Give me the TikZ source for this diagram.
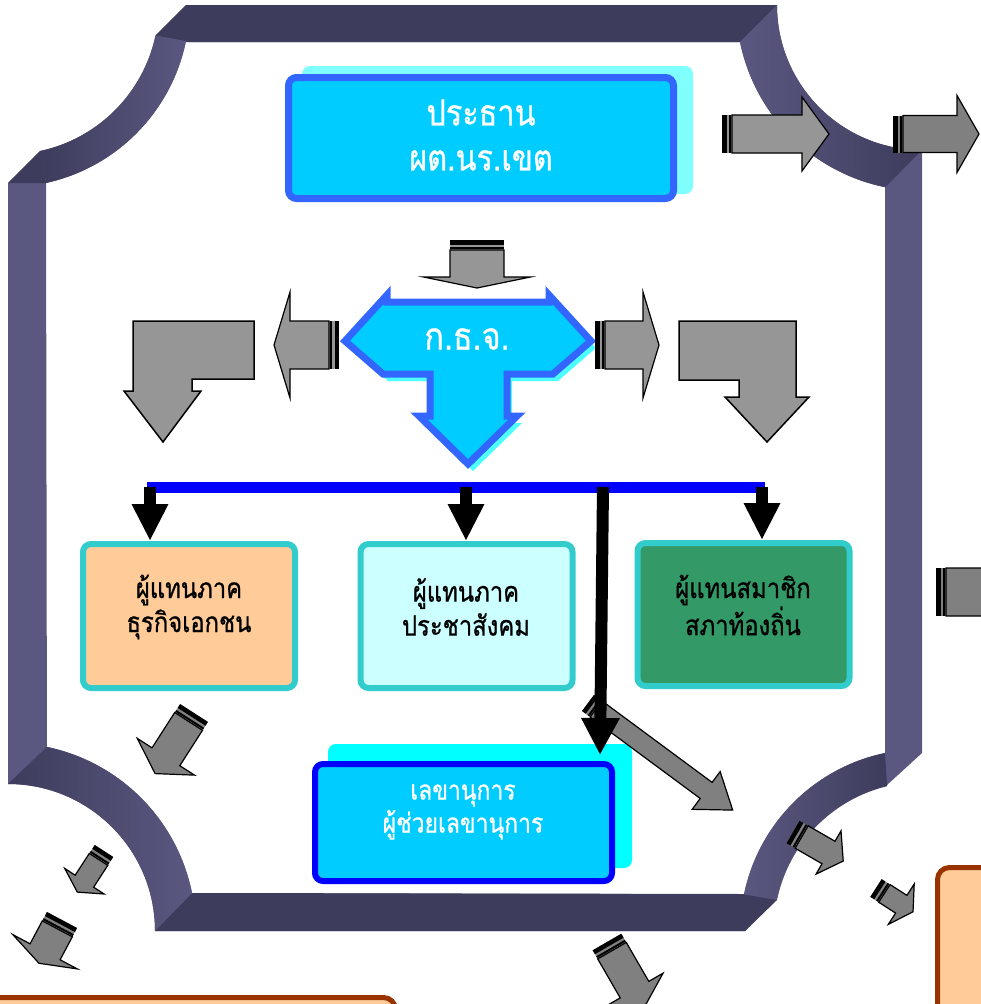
\documentclass[tikz,border=0pt]{standalone}
\usepackage{fontspec}
\newfontfamily\thai[Script=Thai,FakeStretch=0.85,FakeBold=0.8]{Loma}
\usetikzlibrary{arrows.meta}
\definecolor{frL}{RGB}{90,88,128}
\definecolor{frD}{RGB}{62,60,92}
\definecolor{skyf}{HTML}{00CCFF}
\definecolor{bord}{HTML}{3366FF}
\definecolor{shd}{HTML}{80FFFF}
\definecolor{shdk}{HTML}{4DFFFF}
\definecolor{shdb}{HTML}{00FFFF}
\definecolor{grA}{HTML}{969696}
\definecolor{grB}{HTML}{808080}
\definecolor{orng}{HTML}{FFCC99}
\definecolor{lcyan}{HTML}{CCFFFF}
\definecolor{grn}{HTML}{339966}
\definecolor{tealb}{HTML}{33CCCC}
\definecolor{brwn}{HTML}{993300}
\definecolor{secb}{HTML}{0000FF}

% striped block arrow: x, y (tail centre), angle, length, shaft width, head width, head length, fill
\newcommand\sarw[8]{%
  \begin{scope}[shift={(#1,#2)},rotate=#3]
    \fill[#8] (0,{-#5/2}) rectangle (10,{#5/2});
    \fill[black] (0,{-#5/2}) rectangle (4.5,{#5/2});
    \fill[black] (7,{-#5/2}) rectangle (9,{#5/2});
    \draw[fill=#8,line width=1.2pt,line join=miter] (10,{-#5/2}) -- ({#4-#7},{-#5/2}) -- ({#4-#7},{-#6/2}) -- (#4,0) -- ({#4-#7},{#6/2}) -- ({#4-#7},{#5/2}) -- (10,{#5/2}) -- cycle;
  \end{scope}}

\tikzset{
  box/.style={rounded corners=8pt, line width=6pt, draw=tealb, minimum width=212pt, minimum height=144pt, inner sep=0pt},
  boxtext/.style={font=\thai\fontsize{28}{34}\selectfont, align=center, text=black, inner sep=0pt},
  blk/.style={line width=12pt, -{Triangle[width=34pt,length=37pt]}},
  bent/.style={fill=grA, draw=black, line width=1.5pt, line join=miter},
}

\begin{document}
\begin{tikzpicture}[x=1pt,y=-1pt]
\useasboundingbox (0,0) rectangle (981,1004);
\clip (0,0) rectangle (981,1004);

% ---------- frame ----------
\fill[frL, even odd rule]
  (186,5) -- (777,5) arc[start angle=180,end angle=90,radius=145] -- (922,753) -- (887,785)
  arc[start angle=256.4,end angle=191.7,radius=148] -- (745,931) -- (155,931)
  arc[start angle=0,end angle=-90,radius=147] -- (8,183) -- (40,151)
  arc[start angle=78,end angle=12,radius=150] -- cycle
  (188,42) -- (740,42) arc[start angle=168.5,end angle=101.5,radius=186] -- (885,753)
  arc[start angle=258.2,end angle=191.7,radius=182] -- (192,893)
  arc[start angle=-11.4,end angle=-78.2,radius=187] -- (46,183)
  arc[start angle=77.6,end angle=11.6,radius=183] -- cycle;
\fill[frD] (155.5,35.5) -- (186,5) -- (777,5) -- (740,42) -- (186,42) -- cycle;
\fill[frD] (744,894) -- (777,900) -- (745,931) -- (155,931) -- (192,893) -- cycle;
\fill[frD] (8,183) -- (40,151) -- (46,183) -- cycle;
\shade[left color=frL, right color=frD]
  (777,5) arc[start angle=180,end angle=90,radius=145] -- (885.2,187.2)
  arc[start angle=101.5,end angle=168.5,radius=186] -- cycle;
\shade[left color=frD, right color=frL]
  (192,893) arc[start angle=-11.4,end angle=-78.2,radius=187] -- (8,784)
  arc[start angle=-90,end angle=0,radius=147] -- cycle;
\shade[left color=frD, right color=frL]
  (46,183) arc[start angle=77.6,end angle=11.6,radius=183] -- (155.5,35.5)
  arc[start angle=12,end angle=78,radius=150] -- cycle;
\shade[left color=frL, right color=frD]
  (885,753) arc[start angle=258.2,end angle=191.7,radius=182] -- (777,900)
  arc[start angle=191.7,end angle=256.4,radius=148] -- cycle;

% ---------- title box ----------
\node[fill=shd, rounded corners=8pt, minimum width=391pt, minimum height=128pt, inner sep=0pt] (ttlsh) at (497.5,130) {};
\node[fill=skyf, draw=bord, line width=7pt, rounded corners=8pt, minimum width=385pt, minimum height=121pt, inner sep=0pt] (ttl) at (481,138) {};
\node[text=white, font=\thai\fontsize{36}{45}\selectfont, align=center, inner sep=0pt] (ttltx) at (481,135) {ประธาน\\ผต.นร.เขต};

% ---------- arrows near the top ----------
\sarw{477}{240}{-90}{48}{54}{107}{11}{grA}
\sarw{722}{134}{0}{107}{38}{74}{27}{grA}
\sarw{893}{134}{0}{86}{37}{77}{22}{grB}
\sarw{936}{592}{0}{130}{48}{100}{30}{grB}

% ---------- ก.ธ.จ. shape ----------
\fill[shdk, shift={(5,7)}] (345,341) -- (387,295) -- (387,302) -- (549,302) -- (549,295) -- (591,341) -- (553,374) -- (507,374) -- (507,416) -- (517,416) -- (468,464) -- (419,416) -- (430,416) -- (430,374) -- (383,374) -- cycle;
\draw[fill=skyf, draw=bord, line width=7pt, line join=miter] (345,341) -- (387,295) -- (387,302) -- (549,302) -- (549,295) -- (591,341) -- (553,374) -- (507,374) -- (507,416) -- (517,416) -- (468,464) -- (419,416) -- (430,416) -- (430,374) -- (383,374) -- cycle;
\node[text=white, font=\thai\fontsize{38}{45}\selectfont, inner sep=0pt] (kth) at (467,339) {ก.ธ.จ.};

\sarw{339}{345}{180}{65}{48}{106}{16}{grA}
\sarw{595}{345}{0}{64}{48}{106}{16}{grA}

% bent arrows
\draw[bent] (133,321) -- (254,321) -- (254,379) -- (192,379) -- (192,391) -- (201,391) -- (163,442) -- (124,391) -- (133,391) -- cycle;
\draw[bent] (679,321) -- (796,321) -- (796,397) -- (809,397) -- (767,442) -- (725,397) -- (739,397) -- (739,380) -- (679,380) -- cycle;

% ---------- boxes ----------
\node[box, fill=orng] (boxA) at (189,616) {};
\node[box, fill=lcyan] (boxB) at (466.5,616) {};
\node[box, fill=grn, minimum height=143pt] (boxC) at (743.5,614.5) {};
\node[boxtext] (tA) at (189,607) {ผู้แทนภาค\\ธุรกิจเอกชน};
\node[boxtext] (tB) at (466,607) {ผู้แทนภาค\\ประชาสังคม};
\node[boxtext] (tC) at (743,605) {ผู้แทนสมาชิก\\สภาท้องถิ่น};

% ---------- secretary ----------
\node[fill=shdb, rounded corners=8pt, minimum width=304pt, minimum height=124pt, inner sep=0pt] (secsh) at (480,806) {};
\node[fill=skyf, draw=secb, line width=6pt, rounded corners=8pt, minimum width=297pt, minimum height=117pt, inner sep=0pt] (sec) at (463.5,822.5) {};
\node[text=white, font=\thai\fontsize{27}{33}\selectfont, align=center, inner sep=0pt] (sectx) at (463,812) {เลขานุการ\\ผู้ช่วยเลขานุการ};

% ---------- lower grey arrows ----------
\sarw{588}{703}{-36.5}{180}{20}{47}{33}{grB}
\sarw{194}{713}{-122.7}{72}{33}{68}{20}{grB}
\sarw{104}{851}{-123}{49}{22}{47}{13}{grB}
\sarw{62}{920}{-118}{49}{34}{73}{13}{grB}
\sarw{607}{942}{-60}{75}{33}{66}{20}{grB}
\sarw{793}{832}{-30}{58}{26}{50}{17}{grB}
\sarw{876}{888}{-32.7}{44}{21}{48}{14}{grB}

% ---------- blue bus and black arrows ----------
\coordinate (bl) at (147,487.5);
\coordinate (br) at (765,487.5);
\draw[secb, line width=11pt] (bl) -- (br);
\coordinate (d1) at (150,487);
\coordinate (d2) at (466,487);
\coordinate (d3) at (762,487);
\coordinate (d4) at (603,487);
\coordinate (sectop) at (600,755);
\draw[blk] (d1) -- (d1 |- boxA.north);
\draw[blk] (d2) -- (d2 |- boxB.north);
\draw[blk] (d3) -- (d3 |- boxC.north);
\draw[blk, -{Triangle[width=36pt,length=37pt]}] (d4) -- (sectop);

% ---------- partly visible boxes ----------
\node[draw=brwn, fill=orng, line width=5pt, rounded corners=12pt, minimum width=420pt, minimum height=100pt, anchor=north east] (bbl) at (398,995) {};
\node[draw=brwn, fill=orng, line width=5pt, rounded corners=12pt, minimum width=200pt, minimum height=200pt, anchor=north west] (bbr) at (935,865) {};
\end{tikzpicture}
\end{document}
